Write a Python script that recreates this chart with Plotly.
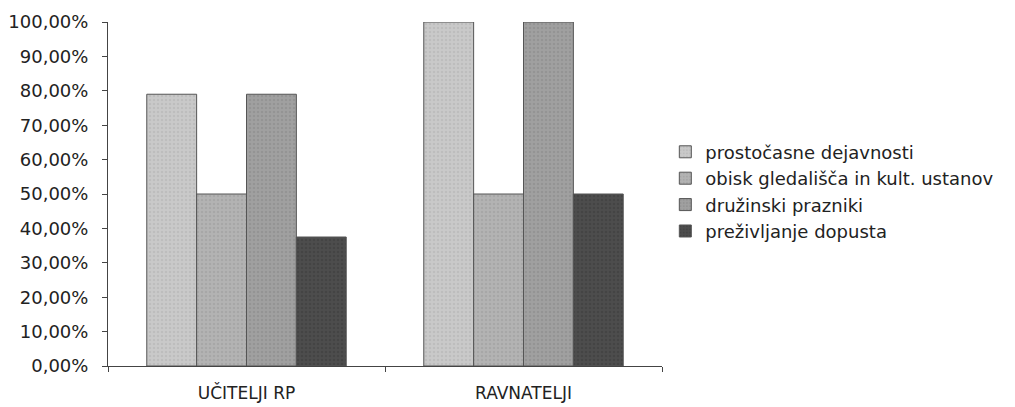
import plotly.graph_objects as go

categories = ["UČITELJI RP", "RAVNATELJI"]
series_names = ["prostočasne dejavnosti", "obisk gledališča in kult. ustanov",
                "družinski prazniki", "preživljanje dopusta"]
values = [
    [79.0, 100.0],
    [50.0, 50.0],
    [79.0, 100.0],
    [37.5, 50.0],
]
colors = ["#c9c9c9", "#b3b3b3", "#a0a0a0", "#4d4d4d"]
dots = ["#b0b0b0", "#9a9a9a", "#888888", "#3a3a3a"]
y_ticks = [0, 10, 20, 30, 40, 50, 60, 70, 80, 90, 100]
y_labels = ["0,00%", "10,00%", "20,00%", "30,00%", "40,00%", "50,00%",
            "60,00%", "70,00%", "80,00%", "90,00%", "100,00%"]

fig = go.Figure()
for name, vals, c, d in zip(series_names, values, colors, dots):
    fig.add_trace(go.Bar(
        x=categories, y=vals, name=name,
        marker=dict(color=c, line=dict(color="#555555", width=1),
                    pattern=dict(shape=".", fgcolor=d, size=4, solidity=0.3)),
    ))

fig.update_layout(
    width=1015, height=407,
    margin=dict(l=100, r=361, t=14, b=49),
    paper_bgcolor="white", plot_bgcolor="white",
    barmode="group", bargap=0.28, bargroupgap=0,
    font=dict(family="DejaVu Sans", size=18, color="#222222"),
    legend=dict(x=1.006, y=0.507, xanchor="left", yanchor="middle",
                font=dict(size=18), itemwidth=30, tracegroupgap=0,
                traceorder="normal"),
    showlegend=True,
)
fig.update_yaxes(range=[0, 100], tickvals=y_ticks, ticktext=y_labels,
                 showgrid=False, showline=True, linecolor="#444444", linewidth=1,
                 ticks="outside", ticklen=5, tickcolor="#444444", zeroline=False,
                 tickfont=dict(size=18), automargin=False, ticklabelstandoff=10)
fig.update_xaxes(showgrid=False, showline=True, linecolor="#444444", linewidth=1,
                 ticks="outside", ticklen=5, tickcolor="#444444", tickson="boundaries",
                 tickfont=dict(size=17), automargin=False, ticklabelstandoff=12)
fig.write_html("out.html")
